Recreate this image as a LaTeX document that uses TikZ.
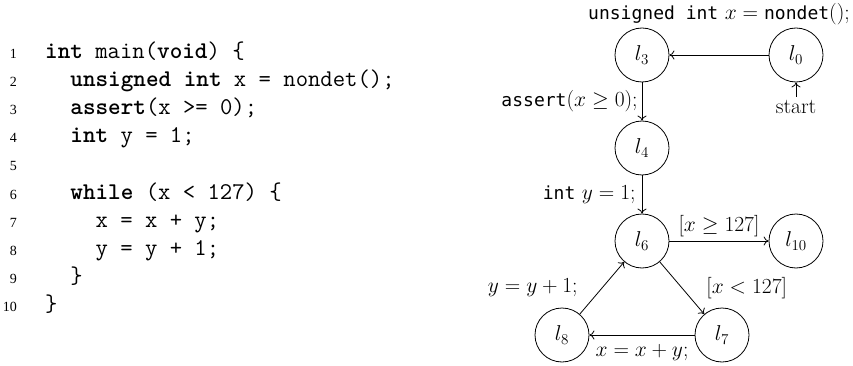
\RequirePackage{fix-cm}
\documentclass[tikz,border=0pt]{standalone}
\usepackage{fontspec}
\usepackage{amssymb}
\newfontfamily\numfont{Liberation Serif}
\newfontfamily\lblmono{DejaVu Sans Mono}
\usetikzlibrary{arrows.meta}
\begin{document}
\begin{tikzpicture}[x=1pt,y=-1pt,
  every node/.style={font=\fontsize{21.5}{25}\selectfont},
  loc/.style={circle, draw, line width=0.8pt, minimum size=54pt, inner sep=0pt},
  trans/.style={-{To[length=5pt,width=9pt]}, line width=0.8pt},
  codeline/.style={anchor=base west, inner sep=0pt, font=\fontsize{24}{26}\ttfamily},
  lnum/.style={anchor=base east, inner sep=0pt, font=\fontsize{14}{16}\numfont},
  lbl/.style={inner sep=4pt}]
\useasboundingbox (0,0) rectangle (853,366);
% code listing
\foreach \k in {1,...,10} {
  \node[lnum] (n\k) at (17, {59+28*(\k-1)}) {\k};
}
\node[codeline] (c1) at (45.0, 59)  {\textbf{int} main(\textbf{void}) \{};
\node[codeline] (c2) at (70.2, 87)  {\textbf{unsigned int} x = nondet();};
\node[codeline] (c3) at (70.2, 115) {\textbf{assert}(x >= 0);};
\node[codeline] (c4) at (70.2, 143) {\textbf{int} y = 1;};
\node[codeline] (c6) at (70.2, 199) {\textbf{while} (x < 127) \{};
\node[codeline] (c7) at (95.4, 227) {x = x + y;};
\node[codeline] (c8) at (95.4, 255) {y = y + 1;};
\node[codeline] (c9) at (70.2, 283) {\}};
\node[codeline] (c10) at (45.0, 311) {\}};
% control-flow automaton
\node[loc] (l0) at (796,55) {$l_0$};
\node[loc] (l3) at (642,55) {$l_3$};
\node[loc] (l4) at (642,148) {$l_4$};
\node[loc] (l6) at (642,241) {$l_6$};
\node[loc] (l10) at (796,241) {$l_{10}$};
\node[loc] (l8) at (562,335) {$l_8$};
\node[loc] (l7) at (722,335) {$l_7$};
\node (start) at (796,107) {start};
\draw[trans] (start) -- (l0);
\draw[trans] (l0) -- node[midway, above=26pt, lbl] (t0) {{\fontsize{18}{22}\lblmono unsigned int} $x = {}${\fontsize{18}{22}\lblmono nondet}$()$;} (l3);
\draw[trans] (l3) -- node[midway, left, lbl] (t1) {{\fontsize{18}{22}\lblmono assert}$(x \geq 0)$;} (l4);
\draw[trans] (l4) -- node[midway, left, lbl, inner sep=6pt] (t2) {{\fontsize{18}{22}\lblmono int} $y = 1$;} (l6);
\draw[trans] (l6) -- node[midway, above, lbl] (t3) {$[x \geq 127]$} (l10);
\draw[trans] (l6) -- node[midway, right=20pt, lbl] (t4) {$[x < 127]$} (l7);
\draw[trans] (l7) -- node[midway, below=8pt, lbl, inner sep=1pt] (t5) {$x = x + y$;} (l8);
\draw[trans] (l8) -- node[midway, left=20pt, lbl] (t6) {$y = y + 1$;} (l6);
\end{tikzpicture}
\end{document}
